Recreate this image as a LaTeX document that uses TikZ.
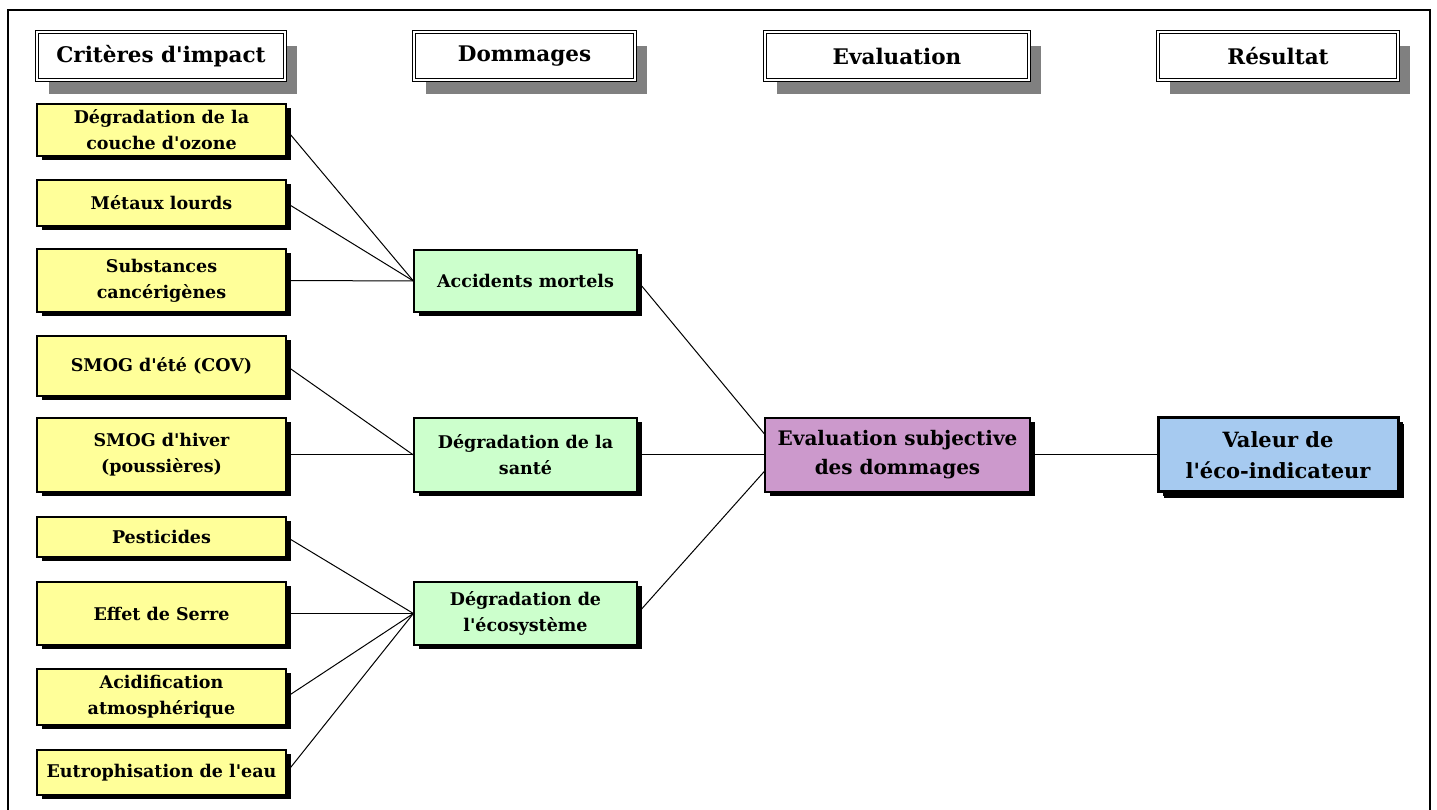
\documentclass[tikz,border=0pt]{standalone}
\usepackage{fontspec}
\setmainfont{DejaVu Serif}
\usetikzlibrary{shadows}

\definecolor{critfill}{HTML}{FFFF99}
\definecolor{dommfill}{HTML}{CCFFCC}
\definecolor{evalfill}{HTML}{CC99CC}
\definecolor{resfill}{HTML}{A6CAF0}
\definecolor{headshadow}{HTML}{808080}
\newcommand{\ap}{\textquotesingle}

\begin{document}
\begin{tikzpicture}[x=1pt,y=1pt]
        \tikzstyle{head} = [rectangle, minimum height=48pt, text centered, draw=black, line width=1pt, double=white, double distance=2.5pt, fill=white, font=\fontsize{21.5}{26}\selectfont\bfseries, drop shadow={shadow xshift=12pt, shadow yshift=-14pt, fill=headshadow, opacity=1}]
        \tikzstyle{box} = [rectangle, inner sep=2pt, text centered, align=center, draw=black, line width=1.2pt, font=\fontsize{17.5}{26}\selectfont\bfseries, drop shadow={shadow xshift=4.5pt, shadow yshift=-4.5pt, fill=black, opacity=1}]
        \tikzstyle{link} = [line width=1pt]

        \useasboundingbox (0,0) rectangle (1437,810);
        \draw [line width=2pt] (8,0) -- (8,800) -- (1430,800) -- (1430,0);

        % column headings
        \node (hcrit) [head, minimum width=248pt] at (161,754) {Critères d\ap impact};
        \node (hdomm) [head, minimum width=221pt] at (524.5,754) {Dommages};
        \node (heval) [head, minimum width=264pt] at (897,754) {Evaluation};
        \node (hres) [head, minimum width=240pt] at (1278,754) {Résultat};

        % impact criteria
        \node (ozone) [box, fill=critfill, minimum width=249pt, minimum height=52pt] at (161.5,680) {Dégradation de la\\couche d\ap ozone};
        \node (metaux) [box, fill=critfill, minimum width=249pt, minimum height=46pt] at (161.5,607) {Métaux lourds};
        \node (cancer) [box, fill=critfill, minimum width=249pt, minimum height=63pt] at (161.5,529.5) {Substances\\cancérigènes};
        \node (smogete) [box, fill=critfill, minimum width=249pt, minimum height=60pt] at (161.5,444) {SMOG d\ap été (COV)};
        \node (smoghiver) [box, fill=critfill, minimum width=249pt, minimum height=74pt] at (161.5,355) {SMOG d\ap hiver\\(poussières)};
        \node (pest) [box, fill=critfill, minimum width=249pt, minimum height=40pt] at (161.5,273) {Pesticides};
        \node (serre) [box, fill=critfill, minimum width=249pt, minimum height=63pt] at (161.5,196.5) {Effet de Serre};
        \node (acid) [box, fill=critfill, minimum width=249pt, minimum height=56pt] at (161.5,113) {Acidification\\atmosphérique};
        \node (eutro) [box, fill=critfill, minimum width=249pt, minimum height=45pt] at (161.5,37.5) {Eutrophisation de l\ap eau};

        % damages
        \node (mort) [box, fill=dommfill, minimum width=223pt, minimum height=62pt] at (525.5,529) {Accidents mortels};
        \node (sante) [box, fill=dommfill, minimum width=223pt, minimum height=74pt] at (525.5,355) {Dégradation de la\\santé};
        \node (eco) [box, fill=dommfill, minimum width=223pt, minimum height=63pt] at (525.5,196.5) {Dégradation de\\l\ap écosystème};

        % evaluation and result
        \node (subj) [box, fill=evalfill, minimum width=265pt, minimum height=74pt, font=\fontsize{20}{29}\selectfont\bfseries] at (897.5,355) {Evaluation subjective\\des dommages};
        \node (valeur) [box, fill=resfill, line width=3pt, minimum width=240pt, minimum height=74pt, font=\fontsize{21}{31}\selectfont\bfseries, drop shadow={shadow xshift=6pt, shadow yshift=-6pt, fill=black, opacity=1}] at (1278,355) {Valeur de\\l\ap éco-indicateur};

        \draw [link] (ozone.east) -- (mort.west);
        \draw [link] (metaux.east) -- (mort.west);
        \draw [link] (cancer.east) -- (mort.west);
        \draw [link] (smogete.east) -- (sante.west);
        \draw [link] (smoghiver.east) -- (sante.west);
        \draw [link] (pest.east) -- (eco.west);
        \draw [link] (serre.east) -- (eco.west);
        \draw [link] (acid.east) -- (eco.west);
        \draw [link] (eutro.east) -- (eco.west);

        \draw [link] (mort.east) -- (subj.171);
        \draw [link] (sante.east) -- (subj.west);
        \draw [link] (eco.east) -- (subj.187);
        \draw [link] (subj.east) -- (valeur.west);
    \end{tikzpicture}
\end{document}
